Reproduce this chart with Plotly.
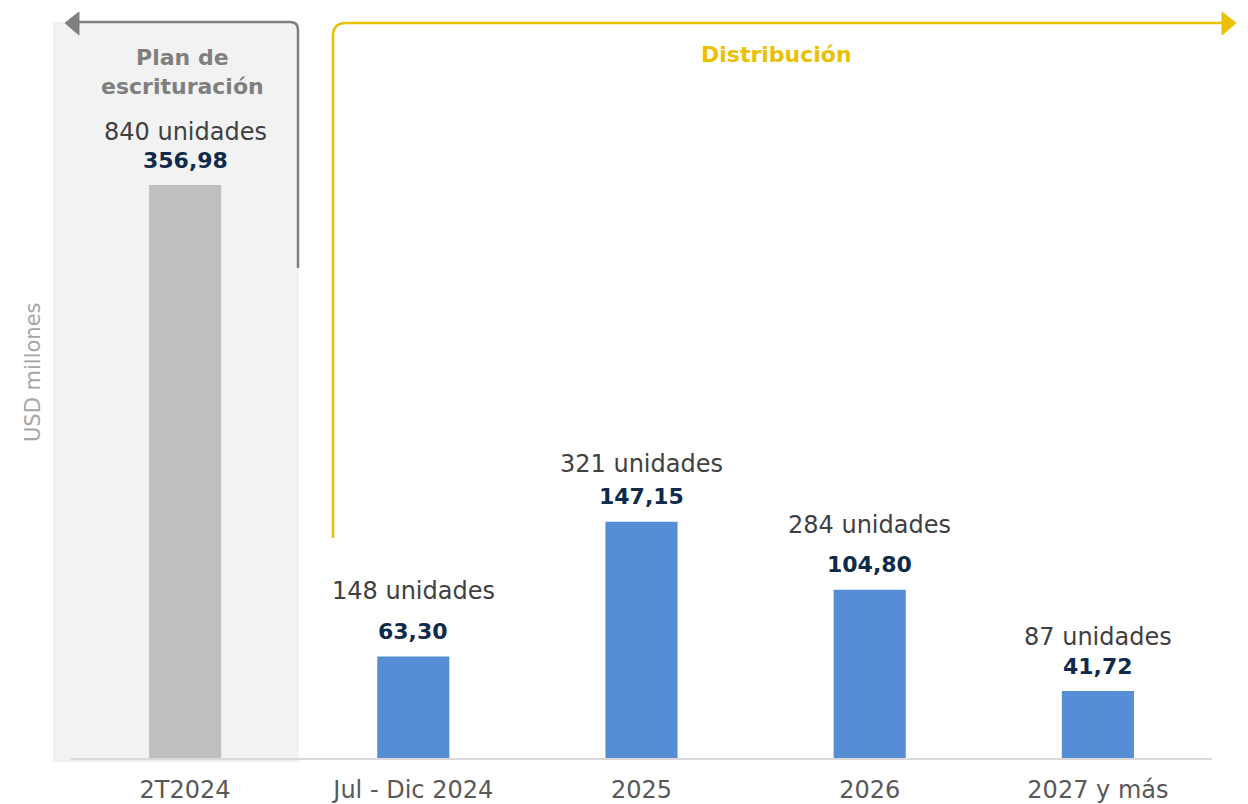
import plotly.graph_objects as go

# ---- data ----
categories = ["2T2024", "Jul - Dic 2024", "2025", "2026", "2027 y más"]
values_usd_mm = [356.98, 63.30, 147.15, 104.80, 41.72]
units = [840, 148, 321, 284, 87]
y_title = "USD millones"
left_header = "Plan de<br>escrituración"
right_header = "Distribución"

# ---- styles ----
bar_colors = ["#BFBFBF", "#558ED5", "#558ED5", "#558ED5", "#558ED5"]
unit_gap_px = [53, 65, 58, 65, 54]   # vertical gap of "unidades" label above bar top
value_gap_px = 25
FONT = "DejaVu Sans"
OFF = 8                      # page body margin offset
W, H = 1248 - OFF, 804 - OFF
ML, MR, MT, MB = 71 - OFF, 36, 20 - OFF, 46
plot_w = W - ML - MR
plot_h = H - MT - MB
px_per_unit = 1.605
y_max = plot_h / px_per_unit


def pxx(x):
    return (x - OFF - ML) / plot_w


def pyy(y):
    return (H - MB - (y - OFF)) / plot_h


fig = go.Figure()
fig.add_trace(go.Bar(
    x=list(range(len(categories))), y=values_usd_mm,
    marker=dict(color=bar_colors, line=dict(width=0)),
    width=0.316, hoverinfo="skip", showlegend=False,
))

ann = []
for i, (v, u) in enumerate(zip(values_usd_mm, units)):
    ann.append(dict(x=i, y=v, xref="x", yref="y", xanchor="center", yanchor="middle",
                    yshift=value_gap_px,
                    text="<b>" + f"{v:.2f}".replace(".", ",") + "</b>", showarrow=False,
                    font=dict(family=FONT, size=22, color="#0F2A4A")))
    ann.append(dict(x=i, y=v, xref="x", yref="y", xanchor="center", yanchor="middle",
                    yshift=unit_gap_px[i],
                    text=f"{u} unidades", showarrow=False,
                    font=dict(family=FONT, size=24, color="#404040")))

ann.append(dict(x=pxx(182), y=pyy(72), xref="paper", yref="paper", xanchor="center",
                yanchor="middle", text=f"<b>{left_header}</b>",
                showarrow=False, font=dict(family=FONT, size=22, color="#7F7F7F"), align="center"))
ann.append(dict(x=pxx(776), y=pyy(54), xref="paper", yref="paper", xanchor="center",
                yanchor="middle", text=f"<b>{right_header}</b>",
                showarrow=False, font=dict(family=FONT, size=22, color="#E9C100")))
ann.append(dict(x=pxx(33), y=pyy(372), xref="paper", yref="paper", xanchor="center",
                yanchor="middle", text=y_title, textangle=-90,
                showarrow=False, font=dict(family=FONT, size=21, color="#A6A6A6")))


def P(x, y):
    return f"{pxx(x):.5f},{pyy(y):.5f}"


shapes = [
    # grey background panel
    dict(type="rect", xref="paper", yref="paper", x0=pxx(53), x1=pxx(299), y0=pyy(762), y1=pyy(22),
         fillcolor="#F2F2F2", line=dict(width=0), layer="below"),
    # grey bracket
    dict(type="path", xref="paper", yref="paper",
         path=f"M {P(78,22)} L {P(290,22)} Q {P(298,22)} {P(298,30)} L {P(298,268)}",
         line=dict(color="#808080", width=2.5)),
    dict(type="path", xref="paper", yref="paper",
         path=f"M {P(65,23)} L {P(79,12)} L {P(79,35)} Z",
         fillcolor="#808080", line=dict(color="#808080", width=1)),
    # yellow bracket
    dict(type="path", xref="paper", yref="paper",
         path=f"M {P(333,538)} L {P(333,36)} Q {P(333,23)} {P(346,23)} L {P(1223,23)}",
         line=dict(color="#E9C100", width=2.5)),
    dict(type="path", xref="paper", yref="paper",
         path=f"M {P(1236,23)} L {P(1222,12)} L {P(1222,35)} Z",
         fillcolor="#E9C100", line=dict(color="#E9C100", width=1)),
]

fig.update_layout(
    width=W, height=H, margin=dict(l=ML, r=MR, t=MT, b=MB, autoexpand=False),
    plot_bgcolor="rgba(0,0,0,0)", paper_bgcolor="white",
    annotations=ann, shapes=shapes,
    xaxis=dict(showline=True, linecolor="#D9D9D9", linewidth=2, ticks="", showgrid=False,
               tickmode="array", tickvals=list(range(len(categories))), ticktext=categories,
               tickfont=dict(family=FONT, size=24, color="#595959"), range=[-0.5, 4.5],
               ticklabelstandoff=9, fixedrange=True, automargin=False),
    yaxis=dict(range=[0, y_max], showticklabels=False, showgrid=False, zeroline=False,
               showline=False, ticks="", fixedrange=True, automargin=False),
)

fig.write_html("out.html")
